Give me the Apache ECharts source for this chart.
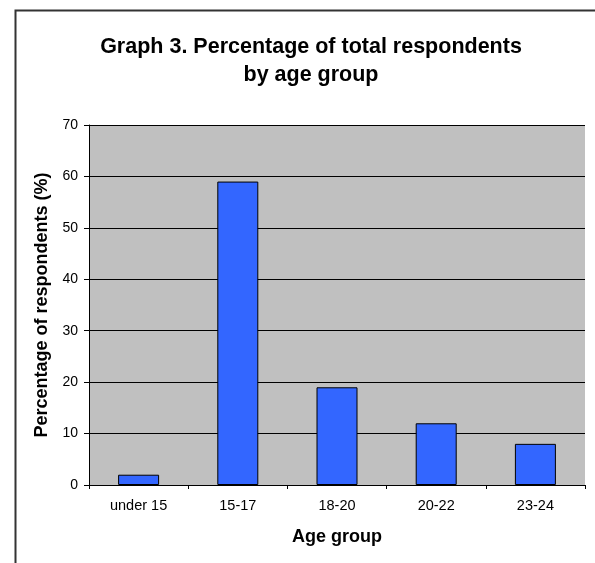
<!DOCTYPE html>
<html>
<head>
<meta charset="utf-8">
<script src="https://cdn.jsdelivr.net/npm/echarts@6/dist/echarts.min.js"></script>
<style>html,body{margin:0;padding:0;background:#fff;}#c{width:595px;height:563px;}</style>
</head>
<body>
<div id="c"></div>
<script>
var categories = ['under 15', '15-17', '18-20', '20-22', '23-24'];
var percentages = [2, 59, 19, 12, 8];
var yTicks = [0, 10, 20, 30, 40, 50, 60, 70];

var FONT = '"Liberation Sans", Arial, sans-serif';
var chart = echarts.init(document.getElementById('c'), null, {renderer: 'canvas'});
chart.setOption({
  backgroundColor: '#fff',
  animation: false,
  title: {
    text: 'Graph 3. Percentage of total respondents\nby age group',
    left: 306,
    top: 28,
    textAlign: 'center',
    textStyle: {fontFamily: FONT, fontSize: 21.5, fontWeight: 'bold', color: '#000', lineHeight: 28}
  },
  graphic: [{
    type: 'rect', left: 13, top: 8, z: -1,
    shape: {width: 700, height: 700},
    style: {fill: 'none', stroke: '#333', lineWidth: 2}
  }],
  grid: {left: 89, top: 125, right: 10, bottom: 78, show: true, backgroundColor: '#C0C0C0', borderWidth: 0},
  xAxis: {
    type: 'category',
    data: categories,
    name: 'Age group',
    nameLocation: 'middle',
    nameGap: 43,
    nameTextStyle: {fontFamily: FONT, fontSize: 18, fontWeight: 'bold', color: '#000'},
    axisLine: {lineStyle: {color: '#000', width: 1}},
    axisTick: {show: true, length: 4, lineStyle: {color: '#000'}},
    axisLabel: {fontFamily: FONT, fontSize: 14.5, color: '#000', margin: 13}
  },
  yAxis: {
    type: 'value',
    min: yTicks[0],
    max: yTicks[yTicks.length - 1],
    interval: 10,
    name: 'Percentage of respondents (%)',
    nameLocation: 'middle',
    nameGap: 36,
    nameRotate: 90,
    nameTextStyle: {fontFamily: FONT, fontSize: 18, fontWeight: 'bold', color: '#000'},
    axisLine: {show: true, lineStyle: {color: '#000', width: 1}},
    axisTick: {show: true, length: 5, lineStyle: {color: '#000'}},
    axisLabel: {fontFamily: FONT, fontSize: 14, color: '#000', margin: 11},
    splitLine: {show: true, lineStyle: {color: '#000', width: 1}}
  },
  series: [{
    type: 'bar',
    data: percentages,
    barWidth: 41,
    itemStyle: {color: '#3366FF', borderColor: '#000', borderWidth: 1}
  }]
});
</script>
</body>
</html>
